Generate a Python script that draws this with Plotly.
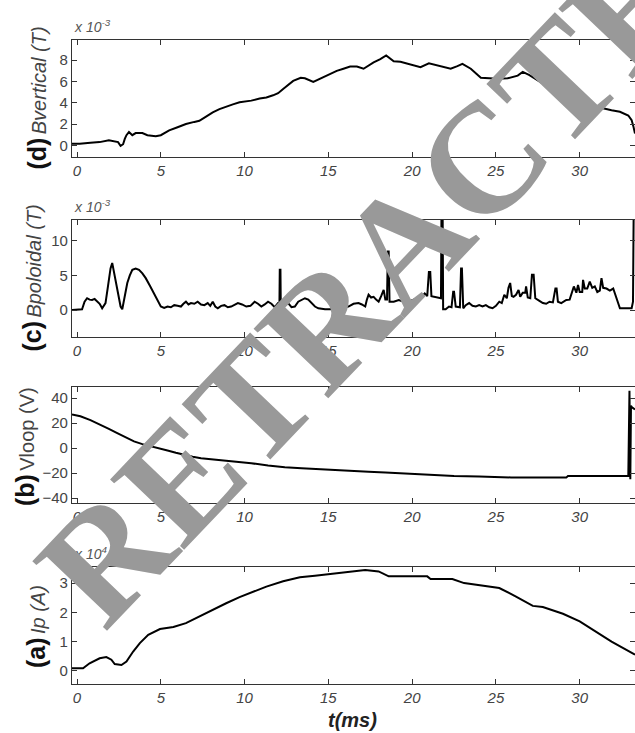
import plotly.graph_objects as go

# ---------------- data ----------------
# (d) Bvertical, x 1e-3 T
t_bv = [-0.3, 0.16, 0.8, 1.35, 1.9, 2.2, 2.45, 2.6, 2.75, 2.85, 2.95, 3.1, 3.3, 3.5, 3.9, 4.2, 4.7, 5.0,
        5.5, 6.0, 6.5, 7.0, 7.3, 7.7, 8.1, 8.5, 8.9, 9.3, 9.7, 10.1, 10.4, 10.9, 11.3, 11.7, 12.0, 12.3,
        12.6, 12.9, 13.35, 13.6, 14.1, 14.7, 15.1, 15.5, 15.9, 16.3, 16.7, 17.1, 17.7, 18.1, 18.45,
        18.9, 19.3, 19.7, 20.1, 20.5, 21.0, 21.3, 21.5, 21.9, 22.3, 22.7, 23.0, 23.5, 24.1, 24.6,
        25.1, 25.7, 26.3, 26.6, 27.0, 27.5, 28.0, 28.6, 29.1, 29.5, 30.0, 30.6, 31.2, 31.9, 32.4,
        32.9, 33.1, 33.2, 33.3]
bvert = [0.15, 0.15, 0.25, 0.3, 0.47, 0.4, 0.3, -0.06, 0.1, 0.6, 0.95, 1.25, 0.95, 1.15, 1.15, 0.95,
         0.85, 0.95, 1.4, 1.7, 2.0, 2.2, 2.3, 2.7, 3.1, 3.4, 3.65, 3.85, 4.05, 4.15, 4.2, 4.4, 4.5,
         4.7, 4.9, 5.3, 5.7, 6.05, 6.35, 6.3, 5.95, 6.4, 6.7, 7.0, 7.2, 7.4, 7.4, 7.2, 7.8, 8.1, 8.45,
         7.9, 7.85, 7.7, 7.55, 7.35, 7.7, 7.6, 7.5, 7.35, 7.2, 7.45, 7.65, 7.2, 6.35, 6.3, 6.25, 6.3,
         6.55, 6.9, 6.6, 6.1, 5.6, 5.1, 4.75, 4.5, 4.2, 3.9, 3.55, 3.3, 3.15, 2.8, 2.35, 1.8, 1.1]

# (c) Bpoloidal, x 1e-3 T
t_bp = [-0.3, 0.3, 0.45, 0.6, 0.75, 0.9, 1.05, 1.2, 1.35, 1.5, 1.6, 1.7, 1.85, 2.0, 2.1, 2.2, 2.3,
        2.45, 2.6, 2.7, 2.85, 3.0, 3.15, 3.3, 3.5, 3.7, 3.9, 4.1, 4.35, 4.6, 4.8, 5.0, 5.2, 5.4,
        5.6, 5.8, 6.0, 6.2, 6.35, 6.5, 6.65, 6.8, 7.0, 7.2, 7.4, 7.6, 7.8, 7.95, 8.1, 8.25, 8.4,
        8.6, 8.8, 9.0, 9.2, 9.4, 9.6, 9.85, 10.1, 10.35, 10.6, 10.8, 11.0, 11.2, 11.4, 11.6, 11.8,
        12.0, 12.08, 12.1, 12.14, 12.16, 12.3, 12.45, 12.6, 12.8, 13.0, 13.2, 13.4, 13.6, 13.8,
        14.0, 14.2, 14.4, 14.8, 15.2, 15.6, 15.9, 16.2, 16.5, 16.8, 17.0, 17.2, 17.3, 17.4, 17.55,
        17.7, 17.85, 18.0, 18.15, 18.3, 18.4, 18.5, 18.55, 18.6, 18.65, 18.9, 19.2, 19.5, 19.8,
        20.1, 20.4, 20.6, 20.75, 20.9, 21.0, 21.08, 21.15, 21.3, 21.5, 21.65, 21.72, 21.75, 21.82,
        21.85, 22.0, 22.2, 22.35, 22.45, 22.5, 22.6, 22.75, 22.85, 22.92, 22.97, 23.05, 23.2, 23.4,
        23.6, 23.8, 24.0, 24.2, 24.4, 24.6, 24.8, 25.0, 25.2, 25.35, 25.5, 25.65, 25.75, 25.85,
        25.95, 26.05, 26.2, 26.35, 26.45, 26.6, 26.75, 26.8, 26.9, 27.05, 27.15, 27.25, 27.35,
        27.55, 27.8, 28.0, 28.2, 28.4, 28.55, 28.62, 28.7, 28.9, 29.2, 29.4, 29.55, 29.65, 29.8,
        29.9, 30.0, 30.15, 30.2, 30.3, 30.45, 30.6, 30.75, 30.9, 31.05, 31.2, 31.3, 31.4, 31.6,
        31.8, 32.0, 32.1, 32.25, 32.4, 32.7, 33.0, 33.1, 33.18, 33.22, 33.3]
bpol = [0.0, 0.1, 1.2, 1.7, 1.5, 1.45, 1.6, 1.2, 0.9, 0.25, 0.6, 1.0, 3.5, 6.0, 6.8, 5.5, 4.35,
        2.2, 0.5, 0.1, 2.0, 3.9, 5.0, 5.8, 6.0, 5.8, 5.3, 4.6, 3.5, 2.4, 1.4, 0.5, 0.3, 0.5, 0.4,
        0.7, 0.6, 0.5, 0.9, 1.2, 0.8, 1.0, 0.9, 1.2, 0.8, 0.7, 1.0, 0.6, 1.2, 0.5, 0.25, 0.6, 0.7,
        0.4, 0.5, 0.8, 1.0, 0.8, 0.5, 0.6, 1.2, 0.9, 0.5, 0.8, 1.2, 0.9, 0.4, 1.0, 1.0, 5.8, 5.8,
        0.5, 1.4, 0.7, 1.0, 0.4, 0.5, 1.2, 1.45, 1.7, 1.5, 1.0, 0.5, 0.25, 0.1, 0.1, 0.3, 0.4,
        0.5, 0.9, 1.0, 0.8, 0.5, 1.5, 2.2, 1.8, 1.9, 1.5, 1.2, 2.0, 2.9, 1.5, 1.5, 8.45, 8.45,
        1.2, 1.2, 1.45, 1.2, 1.2, 1.5, 1.7, 2.0, 2.4, 2.0, 5.5, 5.5, 2.0, 1.9, 1.8, 1.7, 1.7,
        14.0, 14.0, 0.1, 0.1, 0.5, 0.4, 2.65, 2.65, 0.5, 0.5, 0.4, 6.0, 6.0, 0.25, 0.7, 1.0, 0.6,
        0.5, 0.7, 0.5, 0.7, 0.4, 0.25, 0.6, 1.2, 1.0, 2.2, 1.7, 3.2, 3.9, 2.0, 1.9, 2.2, 2.9, 1.9,
        2.5, 2.5, 3.4, 1.8, 1.7, 5.1, 5.1, 1.7, 1.4, 1.0, 0.9, 1.2, 1.1, 3.1, 3.1, 1.2, 1.0, 1.45,
        1.5, 2.8, 3.4, 2.5, 3.6, 2.6, 2.6, 4.35, 3.1, 3.1, 4.1, 3.2, 3.4, 2.6, 2.8, 4.6, 3.2, 3.1,
        2.8, 3.1, 2.4, 1.2, 0.25, 0.25, 0.25, 0.25, 1.2, 14.0, 14.0]

# (b) Vloop, V
t_vl = [-0.3, 0.2, 0.8, 1.4, 1.9, 2.4, 2.9, 3.4, 3.9, 4.4, 4.9, 5.4, 5.9, 6.4, 6.9, 7.4, 8.4, 9.4,
        10.4, 11.4, 12.4, 13.4, 14.4, 15.4, 16.4, 17.4, 18.4, 19.4, 20.9, 22.5, 24.0, 25.9, 29.2,
        29.3, 32.9, 32.93, 32.97, 33.02, 33.06, 33.1, 33.3]
vloop = [27, 25.5, 22.5, 18.9, 15.5, 12.1, 8.6, 5.4, 3.2, 1.3, -0.3, -1.9, -3.7, -5.4, -6.9, -8.1,
         -9.4, -10.8, -12.1, -14.0, -15.4, -16.2, -17.0, -17.5, -18.2, -18.9, -19.6, -20.2, -21.6,
         -22.4, -22.8, -23.5, -23.5, -22.4, -22.4, 25, 46, -25, 34, 33, 31]

# (a) Ip, x 1e4 A
t_ip = [-0.3, 0.36, 0.75, 1.35, 1.75, 2.05, 2.25, 2.65, 2.95, 3.35, 3.75, 4.25, 4.95, 5.75, 6.5,
        7.3, 8.1, 8.9, 9.7, 10.5, 11.3, 12.3, 13.3, 14.2, 15.2, 16.2, 17.2, 18.0, 18.6, 19.7, 20.9,
        21.1, 22.4, 23.1, 24.1, 25.2, 26.2, 27.2, 27.8, 29.0, 30.0, 30.9, 31.9, 33.3]
ip = [0.09, 0.09, 0.26, 0.43, 0.47, 0.38, 0.23, 0.2, 0.32, 0.66, 0.95, 1.23, 1.43, 1.5, 1.63, 1.86,
      2.09, 2.31, 2.52, 2.71, 2.88, 3.06, 3.2, 3.25, 3.32, 3.4, 3.45, 3.4, 3.23, 3.23, 3.23, 3.14,
      3.14, 3.0, 2.91, 2.83, 2.54, 2.22, 2.18, 1.95, 1.69, 1.35, 1.0, 0.55]

x_ticks = [0, 5, 10, 15, 20, 25, 30]
ticks_bv = [0, 2, 4, 6, 8]
ticks_bp = [0, 5, 10]
ticks_vl = [-40, -20, 0, 20, 40]
ticks_ip = [0, 1, 2, 3]

# ---------------- figure ----------------
W, H = 635, 733
ML, MR, MT, MB = 72, 0, 40, 49
PW, PH = W - ML - MR, H - MT - MB

def dom(top_px, bot_px):
    return [(H - MB - bot_px) / PH, (H - MB - top_px) / PH]

panels = [
    (40, 157, t_bv, bvert, [-1.1, 9.9], ticks_bv),
    (220, 337, t_bp, bpol, [-3.9, 13.0], ticks_bp),
    (387, 503, t_vl, vloop, [-44, 49], ticks_vl),
    (567, 684, t_ip, ip, [-0.45, 3.55], ticks_ip),
]

fig = go.Figure()
layout = dict(width=W, height=H, margin=dict(l=ML, r=MR, t=MT, b=MB),
              paper_bgcolor="white", plot_bgcolor="white", showlegend=False,
              font=dict(family="Liberation Sans, Arial, sans-serif", color="#444"))
AX = "#333"
for i, (top, bot, t, y, yr, yt) in enumerate(panels, start=1):
    sfx = "" if i == 1 else str(i)
    fig.add_trace(go.Scatter(x=t, y=y, mode="lines", line=dict(color="black", width=2),
                             xaxis="x" + sfx, yaxis="y" + sfx, hoverinfo="skip"))
    layout["xaxis" + sfx] = dict(domain=[0, 1], anchor="y" + sfx, range=[-0.3, 33.3],
                                 tickvals=x_ticks, ticks="inside", ticklen=5, tickwidth=1.2,
                                 tickcolor=AX, showline=True, linecolor=AX, linewidth=1.3,
                                 mirror="ticks", showgrid=False, zeroline=False,
                                 tickfont=dict(size=15, style="italic", color="#444"))
    layout["yaxis" + sfx] = dict(domain=dom(top, bot), anchor="x" + sfx, range=yr,
                                 tickvals=yt, ticks="inside", ticklen=5, tickwidth=1.2,
                                 tickcolor=AX, showline=True, linecolor=AX, linewidth=1.3,
                                 mirror="ticks", showgrid=False, zeroline=False,
                                 tickfont=dict(size=15, color="#444"))

fig.update_layout(**layout)

def px_x(p):
    return (p - ML) / PW

def px_y(p):
    return (H - MB - p) / PH

ann = []
titles = [
    ("(d)", "<i>Bvertical (T)</i>", 98.5, 36),
    ("(c)", "<i>Bpoloidal (T)</i>", 278.5, 31),
    ("(b)", "Vloop (V)", 447, 25),
    ("(a)", "<i>Ip (A)</i>", 627, 36),
]
for lab, name, yc, xc in titles:
    ann.append(dict(text=f"<span style='font-size:25px;color:#111'><b>{lab}</b></span> "
                         f"<span style='font-size:20px;color:#444'>{name}</span>",
                    xref="paper", yref="paper", x=px_x(xc), y=px_y(yc),
                    xanchor="center", yanchor="middle", textangle=-90, showarrow=False))

for top, mult in [(40, "-3"), (220, "-3"), (567, "4")]:
    ann.append(dict(text=f"<i>x 10<sup>{mult}</sup></i>", xref="paper", yref="paper",
                    x=0, y=px_y(top - 3), xanchor="left", yanchor="bottom",
                    showarrow=False, font=dict(size=14, color="#555")))

ann.append(dict(text="<b><i>t(ms)</i></b>", xref="paper", yref="paper", x=px_x(352),
                y=px_y(720), xanchor="center", yanchor="middle", showarrow=False,
                font=dict(size=20, color="#222")))

ann.append(dict(text="<b>RETRACTED</b>", xref="paper", yref="paper", x=px_x(404), y=px_y(242),
                xanchor="center", yanchor="middle", textangle=-46.4, showarrow=False,
                font=dict(family="Liberation Serif, Times New Roman, serif", size=156,
                          color="#999999")))

fig.update_layout(annotations=ann)
fig.write_html("out.html")
